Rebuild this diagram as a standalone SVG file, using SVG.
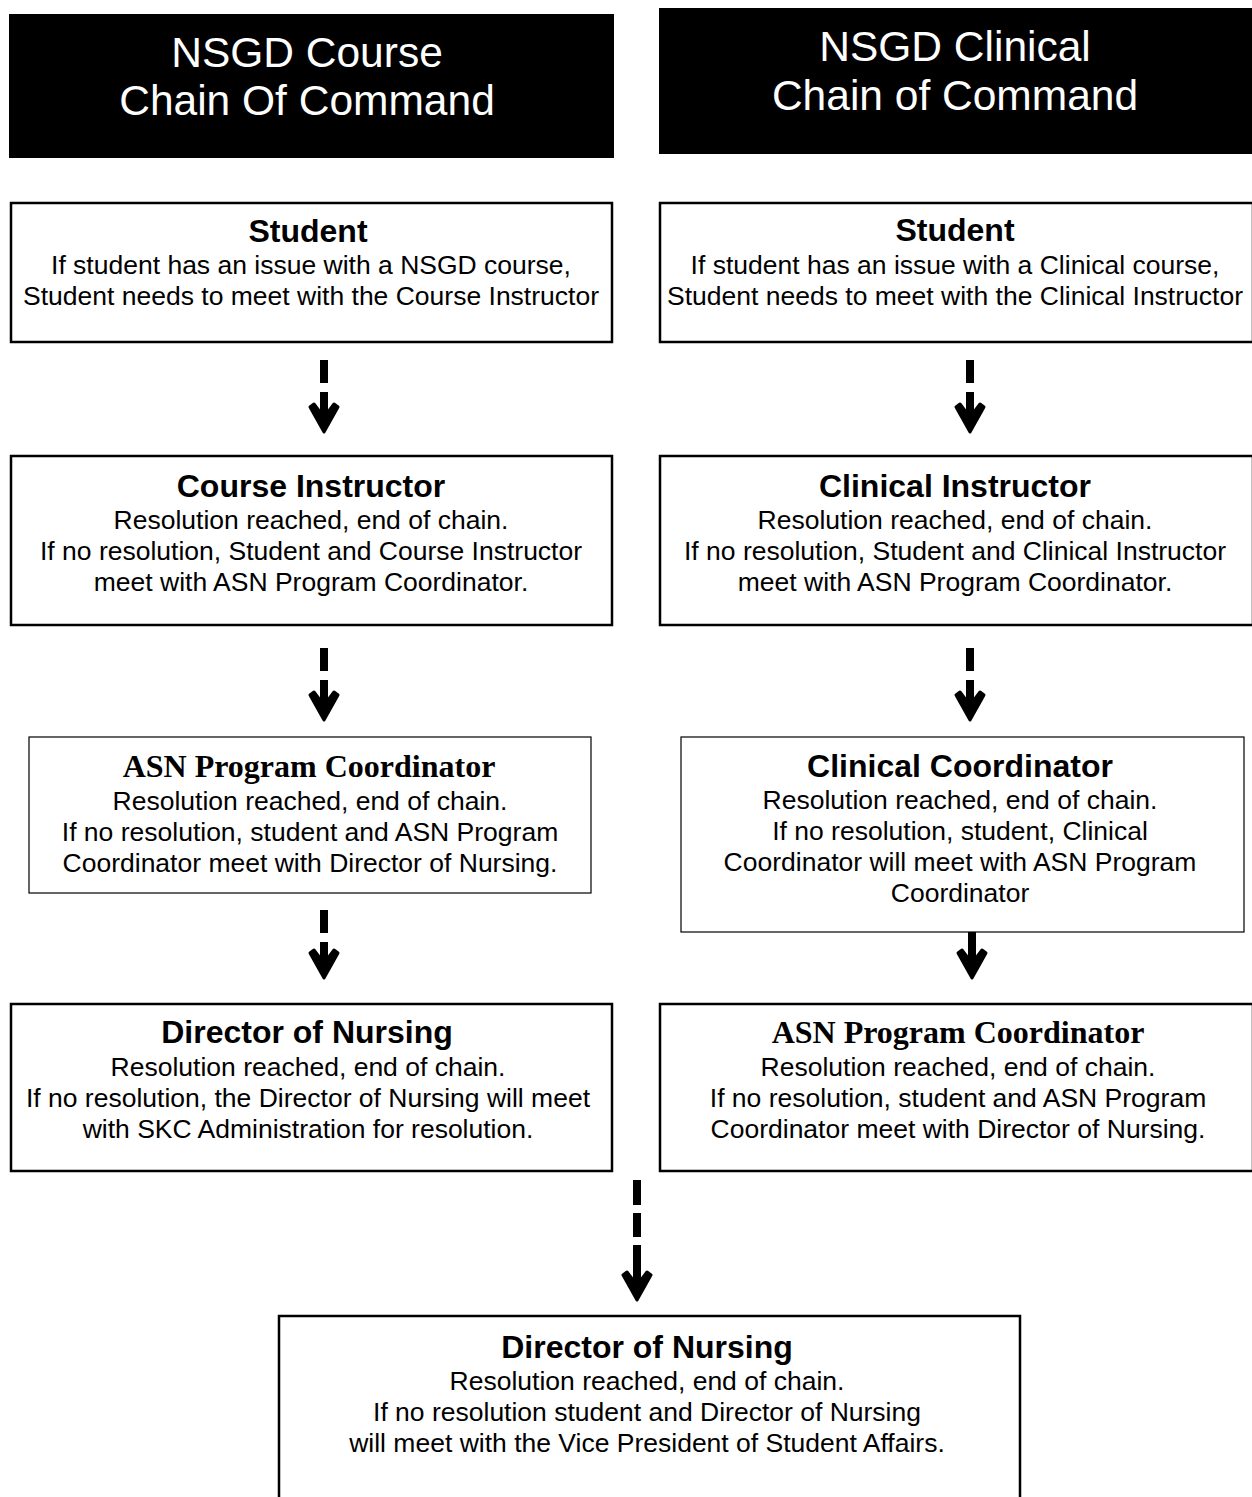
<svg xmlns="http://www.w3.org/2000/svg" width="1252" height="1497" viewBox="0 0 1252 1497">
<style>
.hdr{fill:#000}
.hdrt{fill:#fff;font-family:"Liberation Sans",Arial,sans-serif;font-size:42.5px;text-anchor:middle}
.box{fill:#fff;stroke:#000;stroke-width:2.5}
.thin{fill:#fff;stroke:#000;stroke-width:1.2}
.t{font-family:"Liberation Sans",Arial,sans-serif;font-size:32px;font-weight:bold;text-anchor:middle;fill:#000}
.ts{font-family:"Liberation Serif","Times New Roman",serif;font-size:32px;font-weight:bold;text-anchor:middle;fill:#000}
.b{font-family:"Liberation Sans",Arial,sans-serif;font-size:26.5px;text-anchor:middle;fill:#000}
.c{fill:none;stroke:#000;stroke-width:8;marker-end:url(#ah)}
</style>
<defs>
<marker id="ah" markerUnits="userSpaceOnUse" viewBox="-32 -17 36 34" refX="-20" refY="0" markerWidth="36" markerHeight="34" orient="auto">
<path d="M0,0 L-25,14 L-28,10 L-20,4 L-20,-4 L-28,-10 L-25,-14 Z" fill="#000" stroke="#000" stroke-width="3" stroke-linejoin="round"/>
</marker>
</defs>
<g id="header-course">
<rect class="hdr" x="9" y="14" width="605" height="144"/>
<text class="hdrt" x="307" y="67">NSGD Course</text>
<text class="hdrt" x="307" y="115">Chain Of Command</text>
</g>
<g id="header-clinical">
<rect class="hdr" x="659" y="8" width="593" height="146"/>
<text class="hdrt" x="955" y="61">NSGD Clinical</text>
<text class="hdrt" x="955" y="110">Chain of Command</text>
</g>
<g id="connectors">
<path class="c" d="M324,360V383M324,392V412"/>
<path class="c" d="M324,648V671M324,680V700"/>
<path class="c" d="M324,910V933M324,942V958"/>
<path class="c" d="M970,360V383M970,392V412"/>
<path class="c" d="M970,648V671M970,680V700"/>
<path class="c" d="M972,932V958"/>
<path class="c" d="M637,1180V1205M637,1213V1237M637,1245V1280"/>
</g>
<g id="l-student">
<rect class="box" x="11" y="203" width="601" height="139"/>
<text class="t" x="308" y="242">Student</text>
<text class="b" x="311" y="274">If student has an issue with a NSGD course,</text>
<text class="b" x="311" y="305">Student needs to meet with the Course Instructor</text>
</g>
<g id="l-course-instructor">
<rect class="box" x="11" y="456" width="601" height="169"/>
<text class="t" x="311" y="497">Course Instructor</text>
<text class="b" x="311" y="529">Resolution reached, end of chain.</text>
<text class="b" x="311" y="560">If no resolution, Student and Course Instructor</text>
<text class="b" x="311" y="591">meet with ASN Program Coordinator.</text>
</g>
<g id="l-asn-coordinator">
<rect class="thin" x="29" y="737" width="562" height="156"/>
<text class="ts" x="309" y="777">ASN Program Coordinator</text>
<text class="b" x="310" y="810">Resolution reached, end of chain.</text>
<text class="b" x="310" y="841">If no resolution, student and ASN Program</text>
<text class="b" x="310" y="872">Coordinator meet with Director of Nursing.</text>
</g>
<g id="l-director">
<rect class="box" x="11" y="1004" width="601" height="167"/>
<text class="t" x="307" y="1043">Director of Nursing</text>
<text class="b" x="308" y="1076">Resolution reached, end of chain.</text>
<text class="b" x="308" y="1107">If no resolution, the Director of Nursing will meet</text>
<text class="b" x="308" y="1138">with SKC Administration for resolution.</text>
</g>
<g id="r-student">
<rect class="box" x="660" y="203" width="593" height="139"/>
<text class="t" x="955" y="241">Student</text>
<text class="b" x="955" y="274">If student has an issue with a Clinical course,</text>
<text class="b" x="955" y="305">Student needs to meet with the Clinical Instructor</text>
</g>
<g id="r-clinical-instructor">
<rect class="box" x="660" y="456" width="593" height="169"/>
<text class="t" x="955" y="497">Clinical Instructor</text>
<text class="b" x="955" y="529">Resolution reached, end of chain.</text>
<text class="b" x="955" y="560">If no resolution, Student and Clinical Instructor</text>
<text class="b" x="955" y="591">meet with ASN Program Coordinator.</text>
</g>
<g id="r-clinical-coordinator">
<rect class="thin" x="681" y="737" width="563" height="195"/>
<text class="t" x="960" y="777">Clinical Coordinator</text>
<text class="b" x="960" y="809">Resolution reached, end of chain.</text>
<text class="b" x="960" y="840">If no resolution, student, Clinical</text>
<text class="b" x="960" y="871">Coordinator will meet with ASN Program</text>
<text class="b" x="960" y="902">Coordinator</text>
</g>
<g id="r-asn-coordinator">
<rect class="box" x="660" y="1004" width="593" height="167"/>
<text class="ts" x="958" y="1043">ASN Program Coordinator</text>
<text class="b" x="958" y="1076">Resolution reached, end of chain.</text>
<text class="b" x="958" y="1107">If no resolution, student and ASN Program</text>
<text class="b" x="958" y="1138">Coordinator meet with Director of Nursing.</text>
</g>
<g id="bottom-director">
<path d="M279,1497V1316H1020V1497" fill="#fff" stroke="#000" stroke-width="2.5"/>
<text class="t" x="647" y="1358">Director of Nursing</text>
<text class="b" x="647" y="1390">Resolution reached, end of chain.</text>
<text class="b" x="647" y="1421">If no resolution student and Director of Nursing</text>
<text class="b" x="647" y="1452">will meet with the Vice President of Student Affairs.</text>
</g>
</svg>
